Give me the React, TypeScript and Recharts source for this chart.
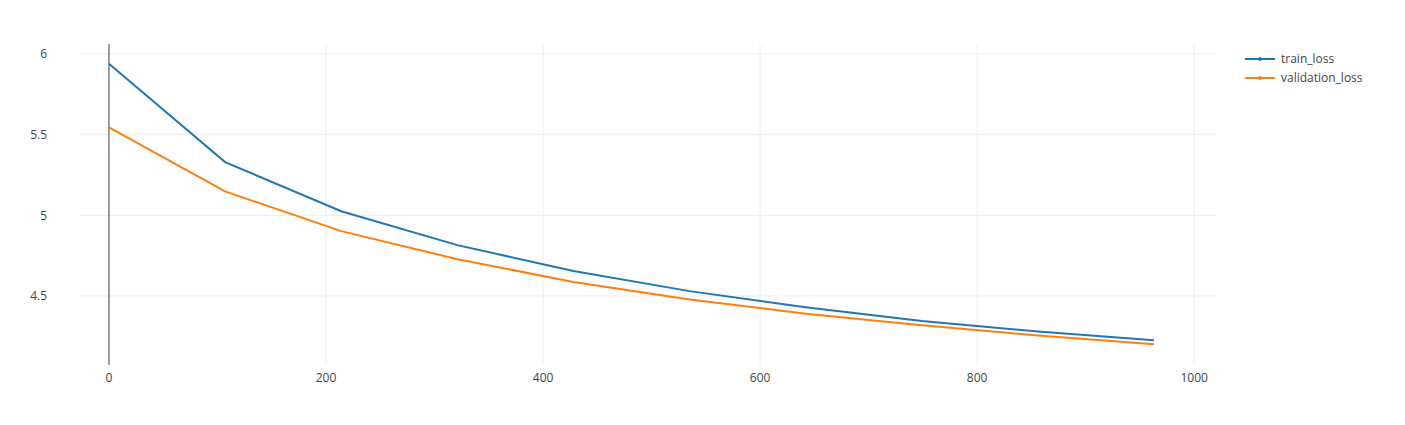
import React from "react";
import { LineChart, Line, XAxis, YAxis, CartesianGrid, ReferenceLine } from "recharts";

const steps = [0, 107, 214, 321, 428, 535, 642, 749, 856, 963];
const trainLoss = [5.94, 5.33, 5.025, 4.815, 4.655, 4.53, 4.43, 4.345, 4.28, 4.225];
const validationLoss = [5.545, 5.148, 4.902, 4.728, 4.587, 4.478, 4.39, 4.318, 4.255, 4.2];
const xTicks = [0, 200, 400, 600, 800, 1000];
const yTicks = [4.5, 5, 5.5, 6];
const seriesNames = ["train_loss", "validation_loss"];
const seriesColors = ["#1f77b4", "#ff7f0e"];

const data = steps.map((s, i) => ({ step: s, train_loss: trainLoss[i], validation_loss: validationLoss[i] }));

const font = { fontFamily: "'Open Sans', sans-serif", fontSize: 12, fill: "#444" };

const LegendBox = () => (
  <div style={{ position: "absolute", left: 1240, top: 49, fontFamily: "'Open Sans', sans-serif", fontSize: 12, color: "#444" }}>
    {seriesNames.map((n, i) => (
      <div key={n} style={{ display: "flex", alignItems: "center", height: 19 }}>
        <svg width={40} height={10}><line x1={5} x2={35} y1={5} y2={5} stroke={seriesColors[i]} strokeWidth={2} /><circle cx={20} cy={5} r={2} fill={seriesColors[i]} /></svg>
        <span style={{ marginLeft: 1 }}>{n}</span>
      </div>
    ))}
  </div>
);

export default function App() {
  return (
    <div style={{ position: "absolute", left: 0, top: 0, width: 1405, height: 425, background: "#fff" }}>
      <LineChart width={1405} height={425} data={data} margin={{ left: 40, top: 44, right: 188, bottom: 30 }}>
        <CartesianGrid stroke="#eee" horizontalValues={yTicks} verticalValues={xTicks} />
        <XAxis dataKey="step" type="number" domain={[-26.7, 1021]} ticks={xTicks} axisLine={false} tickLine={false} tickSize={0} tickMargin={8} tick={font} height={30} allowDataOverflow />
        <YAxis type="number" domain={[4.072, 6.062]} ticks={yTicks} axisLine={false} tickLine={false} tickSize={0} tickMargin={33} tick={font} width={40} allowDataOverflow />
        <ReferenceLine x={0} stroke="#444" strokeWidth={1} />
        <Line type="linear" dataKey="train_loss" stroke={seriesColors[0]} strokeWidth={2} dot={false} isAnimationActive={false} />
        <Line type="linear" dataKey="validation_loss" stroke={seriesColors[1]} strokeWidth={2} dot={false} isAnimationActive={false} />
      </LineChart>
      <LegendBox />
    </div>
  );
}
